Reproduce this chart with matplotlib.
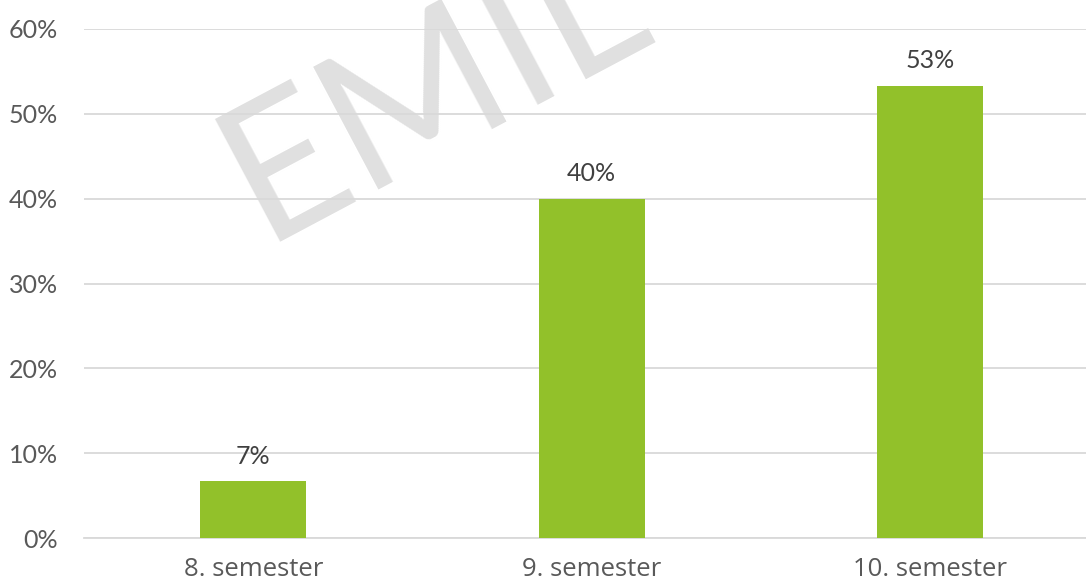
import matplotlib.pyplot as plt
import numpy as np

# data
categories = ['8. semester', '9. semester', '10. semester']
values = [6.67, 40.0, 53.33]
labels = ['7%', '40%', '53%']
yticks = [0, 10, 20, 30, 40, 50, 60]

plt.rcParams['font.family'] = ['Lato', 'DejaVu Sans']

fig = plt.figure(figsize=(10.86, 5.83), dpi=100)
ax = fig.add_axes([84/1086, 1 - 538/583, (1086 - 84)/1086, (538 - 29)/583])

x = np.arange(len(categories))
ax.bar(x, values, width=0.313, color='#92c12a', zorder=3)

for xi, v, lab in zip(x, values, labels):
    ax.annotate(lab, (xi, v), xytext=(0, 10), textcoords='offset points',
                ha='center', va='bottom', fontsize=18, color='#404040', zorder=4)

ax.set_ylim(0, 60)
ax.set_xlim(-0.5, -0.5 + (1086 - 84) / 338.5)
ax.set_yticks(yticks)
ax.set_yticklabels([f'{t}%' for t in yticks])
ax.set_xticks(x)
ax.set_xticklabels(categories, family=['Open Sans', 'DejaVu Sans'])
ax.tick_params(axis='both', length=0, labelcolor='#595959')
ax.tick_params(axis='y', pad=19, labelsize=18)
ax.tick_params(axis='x', pad=14, labelsize=18.5)
ax.set_axisbelow(True)
ax.grid(axis='y', color='#d9d9d9', lw=1.3, zorder=1)
for s in ['top', 'right', 'left']:
    ax.spines[s].set_visible(False)
ax.spines['bottom'].set_color('#d9d9d9')
ax.spines['bottom'].set_linewidth(1.3)

# watermark, under the gridlines
ax.text(262/1086, 1 - 242/583, 'EMIL', transform=fig.transFigure,
        fontsize=140, color='#e0e0e0', rotation=28, rotation_mode='anchor',
        ha='left', va='baseline', zorder=0.5, clip_on=False)

fig.savefig('out.png', dpi=100)
